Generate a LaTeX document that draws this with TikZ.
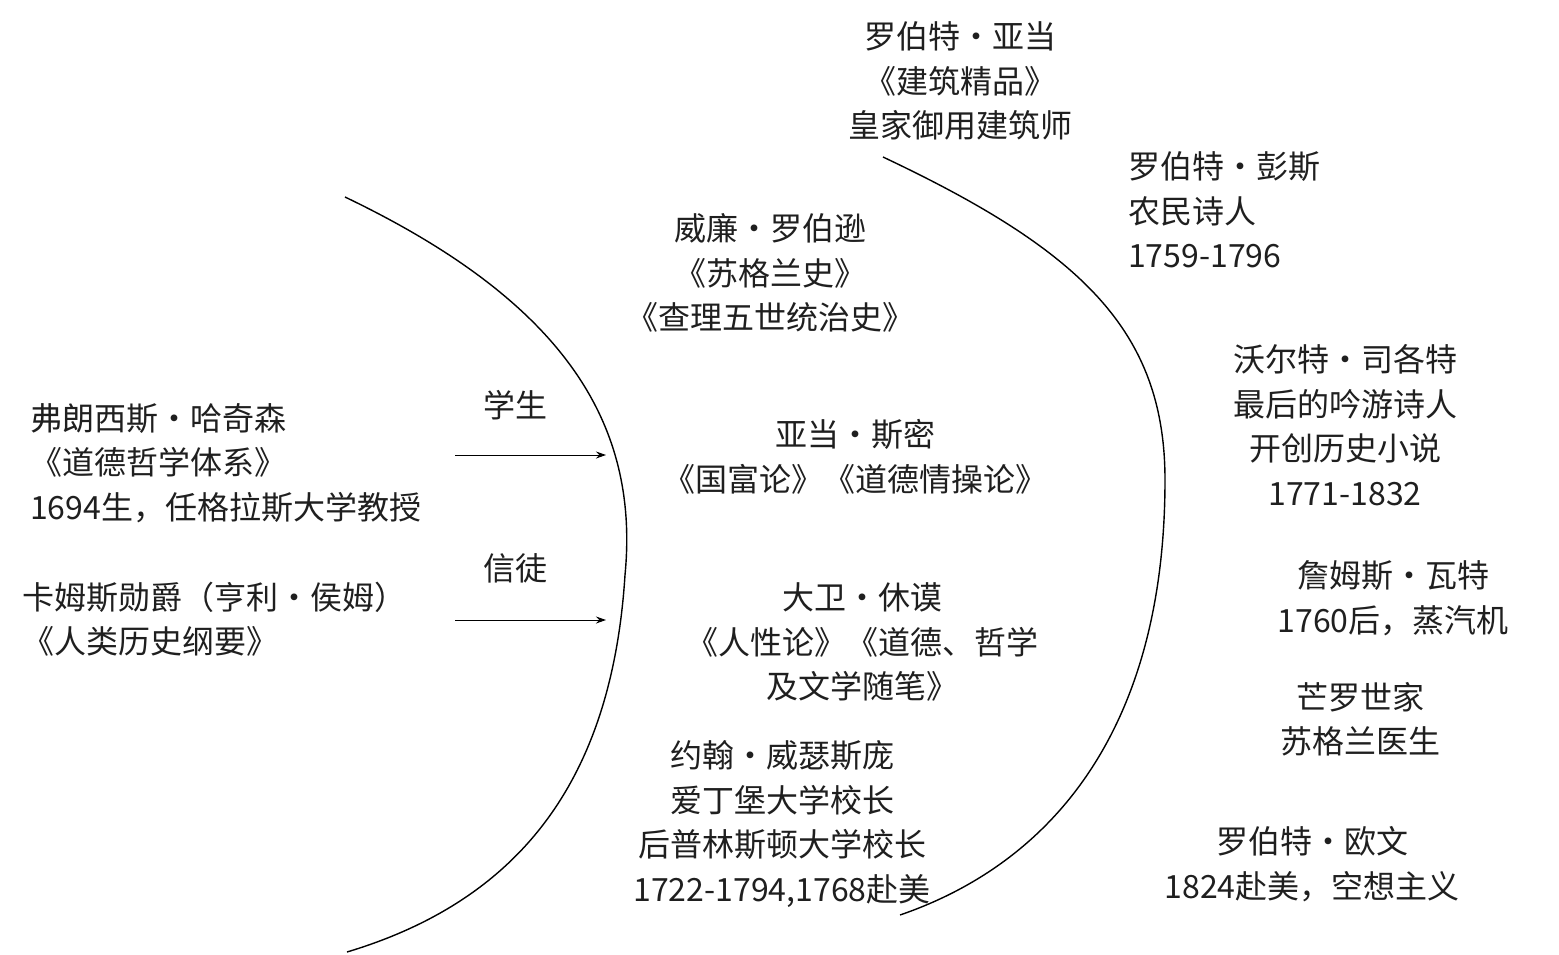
\documentclass[tikz,border=0pt]{standalone}
\usepackage{fontspec}
\setmainfont{Noto Sans CJK SC}
\usetikzlibrary{arrows.meta}
\begin{document}
\begin{tikzpicture}[x=1pt,y=-1pt,
  txt/.style={font=\fontsize{32}{44.5}\selectfont, text=black!88, inner sep=0pt, align=center},
  ltxt/.style={txt, align=left, anchor=west},
  arr/.style={-{Stealth[length=10pt,width=7pt]}, line width=1pt},
  curve/.style={line width=1.4pt}]
\useasboundingbox (0,0) rectangle (1559,954);
\draw[curve] (345,197) .. controls (560,300) and (640,420) .. (625,575) .. controls (612,780) and (520,900) .. (347,952);
\draw[curve] (883,157) .. controls (1080,250) and (1165,330) .. (1165,480) .. controls (1165,720) and (1060,860) .. (900,915);
\node[txt] (adam) at (960,81) {罗伯特·亚当\\《建筑精品》\\皇家御用建筑师};
\node[ltxt] (burns) at (1128,210) {罗伯特·彭斯\\农民诗人\\1759-1796};
\node[txt] (rob) at (770,273) {威廉·罗伯逊\\《苏格兰史》\\《查理五世统治史》};
\node[ltxt] (hut) at (30,463) {弗朗西斯·哈奇森\\《道德哲学体系》\\1694生，任格拉斯大学教授};
\node[txt] (stu) at (515,405) {学生};
\node[txt] (fol) at (515,568) {信徒};
\node[txt] (smith) at (855,457) {亚当·斯密\\《国富论》《道德情操论》};
\node[ltxt] (kames) at (22,619) {卡姆斯勋爵（亨利·侯姆）\\《人类历史纲要》};
\node[txt] (hume) at (862,642) {大卫·休谟\\《人性论》《道德、哲学\\及文学随笔》};
\node[txt] (wit) at (782,824) {约翰·威瑟斯庞\\爱丁堡大学校长\\后普林斯顿大学校长\\1722-1794,1768赴美};
\node[txt] (scott) at (1345,425) {沃尔特·司各特\\最后的吟游诗人\\开创历史小说\\1771-1832};
\node[txt] (watt) at (1393,598) {詹姆斯·瓦特\\1760后，蒸汽机};
\node[txt] (monro) at (1360,719) {芒罗世家\\苏格兰医生};
\node[txt] (owen) at (1312,864) {罗伯特·欧文\\1824赴美，空想主义};
\coordinate (a1s) at (455,455); \coordinate (a1e) at (606,455);
\coordinate (a2s) at (455,620); \coordinate (a2e) at (606,620);
\draw[arr] (a1s) -- (a1e);
\draw[arr] (a2s) -- (a2e);
\end{tikzpicture}
\end{document}
